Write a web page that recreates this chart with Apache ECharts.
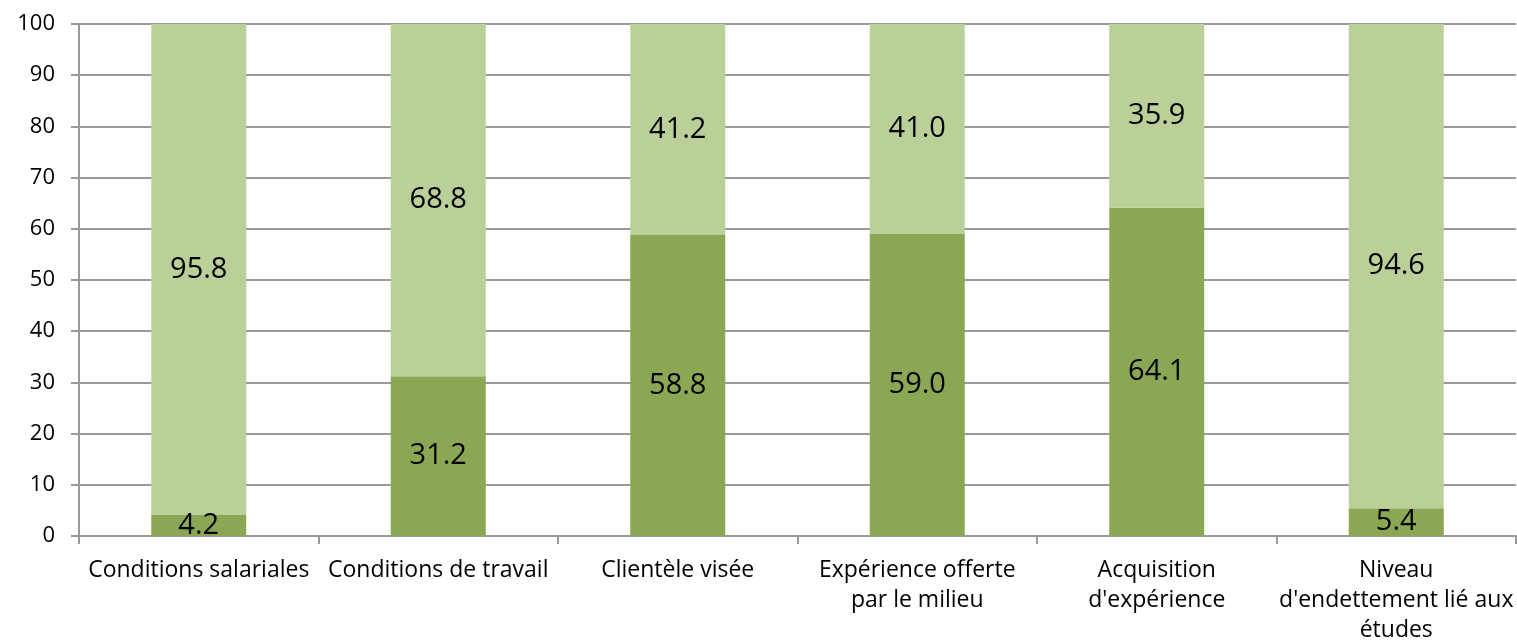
<!DOCTYPE html>
<html>
<head>
<meta charset="utf-8">
<script src="https://cdn.jsdelivr.net/npm/echarts@6/dist/echarts.min.js"></script>
<style>
  html, body { margin: 0; padding: 0; background: #fff; }
  #chart { width: 1517px; height: 643px; }
</style>
</head>
<body>
<div id="chart"></div>
<script>
// Categories (line breaks as shown under the axis)
const categories = [
  'Conditions salariales',
  'Conditions de travail',
  'Clientèle visée',
  'Expérience offerte\npar le milieu',
  'Acquisition\nd\'expérience',
  'Niveau\nd\'endettement lié aux\nétudes'
];
// Lower (dark) segment values
const darkValues = [4.2, 31.2, 58.8, 59.0, 64.1, 5.4];
// Upper (light) segment values
const lightValues = [95.8, 68.8, 41.2, 41.0, 35.9, 94.6];
// Y-axis range
const yMin = 0, yMax = 100, yStep = 10;

const FONT = '"Open Sans", "Noto Sans", sans-serif';
const axisGray = '#9a9a9a';

const labelCfg = {
  show: true,
  position: 'inside',
  color: '#000',
  fontSize: 29,
  fontFamily: FONT,
  formatter: p => p.value.toFixed(1)
};

const chart = echarts.init(document.getElementById('chart'), null, { renderer: 'canvas' });
chart.setOption({
  animation: false,
  backgroundColor: '#fff',
  grid: {
    left: 79, right: 1, top: 24, bottom: 107,
    containLabel: false,
    outerBoundsMode: 'none'
  },
  xAxis: {
    type: 'category',
    data: categories,
    axisLine: { lineStyle: { color: axisGray, width: 2 } },
    axisTick: { show: true, alignWithLabel: false, length: 8, lineStyle: { color: axisGray, width: 2 } },
    axisLabel: {
      interval: 0,
      color: '#000',
      fontSize: 23,
      fontFamily: FONT,
      lineHeight: 30,
      margin: 19
    }
  },
  yAxis: {
    type: 'value',
    min: yMin, max: yMax, interval: yStep,
    axisLine: { show: true, lineStyle: { color: axisGray, width: 2 } },
    axisTick: { show: true, length: 8, lineStyle: { color: axisGray, width: 2 } },
    splitLine: { lineStyle: { color: axisGray, width: 2 } },
    axisLabel: { color: '#000', fontSize: 22, fontFamily: FONT, margin: 24 }
  },
  series: [
    {
      name: 'dark',
      type: 'bar',
      stack: 'total',
      barWidth: 95,
      data: darkValues,
      itemStyle: { color: '#8BA753' },
      label: labelCfg
    },
    {
      name: 'light',
      type: 'bar',
      stack: 'total',
      barWidth: 95,
      data: lightValues,
      itemStyle: { color: '#BBCF98' },
      label: labelCfg
    }
  ]
});
</script>
</body>
</html>
